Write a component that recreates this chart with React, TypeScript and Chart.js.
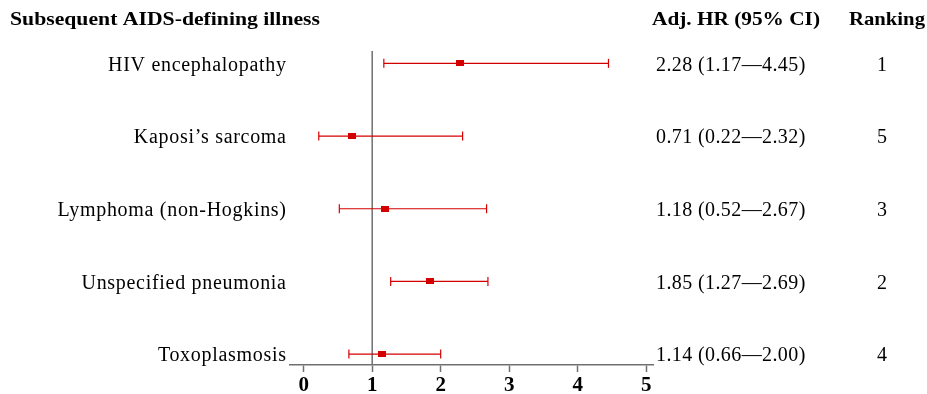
import React, { useEffect, useRef } from "react";
import { Chart, registerables } from "chart.js";

Chart.register(...registerables);

const illnesses = [
  "HIV encephalopathy",
  "Kaposi\u2019s sarcoma",
  "Lymphoma (non-Hogkins)",
  "Unspecified pneumonia",
  "Toxoplasmosis",
];
const hrValues = [2.28, 0.71, 1.18, 1.85, 1.14];
const ciLower = [1.17, 0.22, 0.52, 1.27, 0.66];
const ciUpper = [4.45, 2.32, 2.67, 2.69, 2.0];
const rankings = [1, 5, 3, 2, 4];
const xTicks = [0, 1, 2, 3, 4, 5];
const referenceValue = 1;

const RED = "#d40000";
const SERIF = '"Liberation Serif", "Times New Roman", serif';

function fmt(v: number) {
  return v.toFixed(2);
}

function drawFit(ctx: CanvasRenderingContext2D, text: string, x: number, y: number, width: number, align: "left" | "right" | "center") {
  const w = ctx.measureText(text).width;
  const s = width / w;
  ctx.save();
  let x0 = x;
  if (align === "right") x0 = x - width;
  else if (align === "center") x0 = x - width / 2;
  ctx.translate(x0, y);
  ctx.scale(s, 1);
  ctx.textAlign = "left";
  ctx.fillText(text, 0, 0);
  ctx.restore();
}

function drawSpaced(ctx: CanvasRenderingContext2D, text: string, x: number, y: number, spacing: number, align: "left" | "right") {
  (ctx as any).letterSpacing = `${spacing}px`;
  const w = ctx.measureText(text).width - spacing;
  ctx.textAlign = "left";
  ctx.fillText(text, align === "right" ? x - w : x, y);
  (ctx as any).letterSpacing = "0px";
}

export default function App() {
  const ref = useRef<HTMLCanvasElement | null>(null);

  useEffect(() => {
    if (!ref.current) return;
    const marker = document.createElement("canvas");
    marker.width = 8;
    marker.height = 6;
    const mctx = marker.getContext("2d")!;
    mctx.fillStyle = RED;
    mctx.fillRect(0, 0, 8, 6);

    const rows = illnesses.map((_, i) => i + 1);

    const ciDatasets = rows.map((r, i) => ({
      type: "scatter" as const,
      data: [
        { x: ciLower[i], y: r },
        { x: ciUpper[i], y: r },
      ],
      showLine: true,
      borderColor: RED,
      borderWidth: 1.2,
      pointStyle: "line" as const,
      pointRotation: 90,
      pointRadius: 4.5,
      pointBorderColor: RED,
      pointBorderWidth: 1.2,
      pointBackgroundColor: RED,
      order: 1,
    }));

    const textPlugin = {
      id: "forestText",
      afterDraw(chart: any) {
        const ctx: CanvasRenderingContext2D = chart.ctx;
        const yScale = chart.scales.y;
        ctx.save();
        ctx.fillStyle = "#000";
        ctx.textBaseline = "middle";
        ctx.font = `bold 19px ${SERIF}`;
        drawFit(ctx, "Subsequent AIDS-defining illness", 10, 20, 310, "left");
        drawFit(ctx, "Adj. HR (95% CI)", 652, 20, 168, "left");
        drawFit(ctx, "Ranking", 849, 20, 76, "left");
        ctx.font = `20px ${SERIF}`;
        rows.forEach((r, i) => {
          const py = yScale.getPixelForValue(r) + 2;
          drawSpaced(ctx, illnesses[i], 286, py, 0.7, "right");
          drawSpaced(ctx, `${fmt(hrValues[i])} (${fmt(ciLower[i])}\u2014${fmt(ciUpper[i])})`, 656, py, 0.4, "left");
          ctx.textAlign = "center";
          ctx.fillText(String(rankings[i]), 882, py);
        });
        ctx.restore();
      },
    };

    const chart = new Chart(ref.current, {
      type: "scatter",
      data: {
        datasets: [
          {
            type: "scatter",
            data: rows.map((r, i) => ({ x: hrValues[i], y: r })),
            pointStyle: marker as any,
            pointRadius: 4,
            order: 0,
          } as any,
          ...ciDatasets,
          {
            type: "scatter",
            data: [
              { x: referenceValue, y: 0.83 },
              { x: referenceValue, y: 5.15 },
            ],
            showLine: true,
            borderColor: "#707070",
            borderWidth: 1.5,
            pointRadius: 0,
            order: 2,
          },
        ],
      },
      options: {
        animation: false,
        responsive: false,
        devicePixelRatio: 1,
        events: [],
        layout: {
          autoPadding: false,
          padding: { left: 290, right: 274, top: 51, bottom: 0 },
        },
        plugins: {
          legend: { display: false },
          tooltip: { enabled: false },
          title: { display: false },
        },
        scales: {
          x: {
            type: "linear",
            min: -0.2,
            max: 5.1,
            afterBuildTicks: (axis: any) => {
              axis.ticks = xTicks.map((v) => ({ value: v }));
            },
            afterFit: (axis: any) => {
              axis.height = 29;
            },
            border: { display: true, color: "#707070", width: 1.5 },
            grid: {
              display: true,
              drawOnChartArea: false,
              drawTicks: true,
              tickLength: 7,
              tickWidth: 1.5,
              color: "#707070",
            },
            ticks: {
              color: "#000",
              padding: 1,
              font: { family: SERIF, size: 21, weight: "bold" },
              maxRotation: 0,
            },
          },
          y: {
            type: "linear",
            display: false,
            reverse: true,
            min: 0.83,
            max: 5.15,
          },
        },
      },
      plugins: [textPlugin],
    } as any);
    return () => chart.destroy();
  }, []);

  return (
    <div style={{ position: "absolute", left: 0, top: 0, width: 927, height: 394, background: "#fff" }}>
      <canvas ref={ref} width={927} height={394} style={{ display: "block" }} />
    </div>
  );
}
